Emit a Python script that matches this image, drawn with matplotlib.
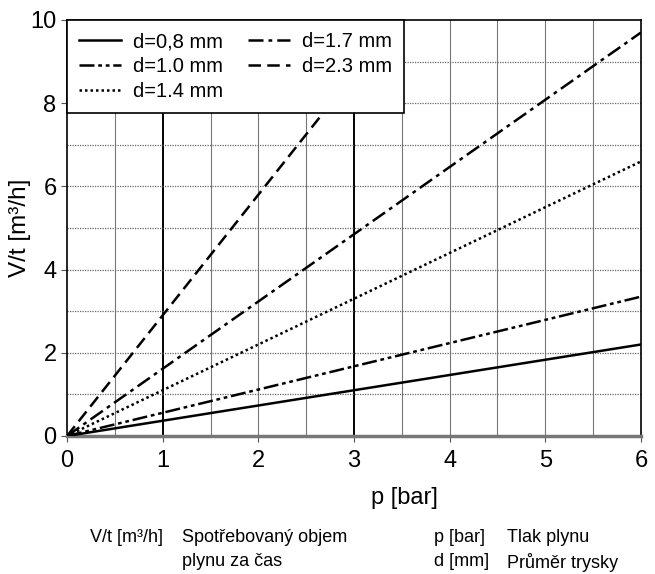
import numpy as np
import matplotlib
matplotlib.use("Agg")
import matplotlib.pyplot as plt

plt.rcParams['font.family'] = ['Liberation Sans', 'DejaVu Sans']

# pressure range and flow at each end (straight lines from origin)
p = [0, 6]
labels = ["d=0,8 mm", "d=1.0 mm", "d=1.4 mm", "d=1.7 mm", "d=2.3 mm"]
flow = {
    "d=0,8 mm": [0, 2.2],
    "d=1.0 mm": [0, 3.35],
    "d=1.4 mm": [0, 6.6],
    "d=1.7 mm": [0, 9.7],
    "d=2.3 mm": [0, 17.4],
}
styles = {
    "d=0,8 mm": "-",
    "d=1.0 mm": (0, (6, 1.5, 1.5, 1.5, 1.5, 1.5)),
    "d=1.4 mm": (0, (1, 1.2)),
    "d=1.7 mm": (0, (6, 2, 1.5, 2)),
    "d=2.3 mm": (0, (5, 2.5)),
}

fig = plt.figure(figsize=(6.55, 5.74), dpi=100)
ax = fig.add_axes([67/655, 1 - 436/574, (641-67)/655, (436-20)/574])

# grid
for x in np.arange(0.5, 6, 0.5):
    if x in (1, 3):
        ax.axvline(x, color="black", lw=1.4, zorder=1)
    else:
        ax.axvline(x, color="#777777", lw=0.8, zorder=1)
for y in range(1, 10):
    ax.axhline(y, color="#666666", lw=0.9, ls=(0, (1, 1)), zorder=1)

for lab in labels:
    ax.plot(p, flow[lab], color="black", lw=1.8, ls=styles[lab], label=lab, zorder=3)

ax.set_xlim(0, 6)
ax.set_ylim(0, 10)
ax.set_xticks(range(7))
ax.set_yticks([0, 2, 4, 6, 8, 10])
ax.tick_params(labelsize=17, length=4, width=0.8, color="#555555")
ax.tick_params(axis="x", pad=6)
for s in ["top", "right", "left"]:
    ax.spines[s].set_linewidth(1.2)
ax.spines["bottom"].set_linewidth(2.5)
ax.spines["bottom"].set_color("#777777")

ax.set_xlabel("p [bar]", fontsize=17)
ax.xaxis.set_label_coords(0.587, -0.122)
ax.set_ylabel("V/t [m³/h]", fontsize=17.5)
ax.yaxis.set_label_coords(-0.062, 0.5)

handles, labs = ax.get_legend_handles_labels()
leg = ax.legend(handles, labs, ncol=2, loc="upper left", fontsize=14.5,
                frameon=True, fancybox=False, edgecolor="black",
                framealpha=1, borderaxespad=0, handlelength=2.1,
                handletextpad=0.6, labelspacing=0.3, columnspacing=1.2,
                borderpad=0.6)
leg.get_frame().set_linewidth(1.2)
leg.set_zorder(5)

fs = 13
fig.text(90/655, 1 - 537/574, "V/t [m³/h]", fontsize=fs, va="center")
fig.text(182/655, 1 - 537/574, "Spotřebovaný objem", fontsize=fs, va="center")
fig.text(182/655, 1 - 561/574, "plynu za čas", fontsize=fs, va="center")
fig.text(434/655, 1 - 537/574, "p [bar]", fontsize=fs, va="center")
fig.text(507/655, 1 - 537/574, "Tlak plynu", fontsize=fs, va="center")
fig.text(434/655, 1 - 562/574, "d [mm]", fontsize=fs, va="center")
fig.text(507/655, 1 - 562/574, "Průměr trysky", fontsize=fs, va="center")

fig.savefig("out.png", dpi=100)
